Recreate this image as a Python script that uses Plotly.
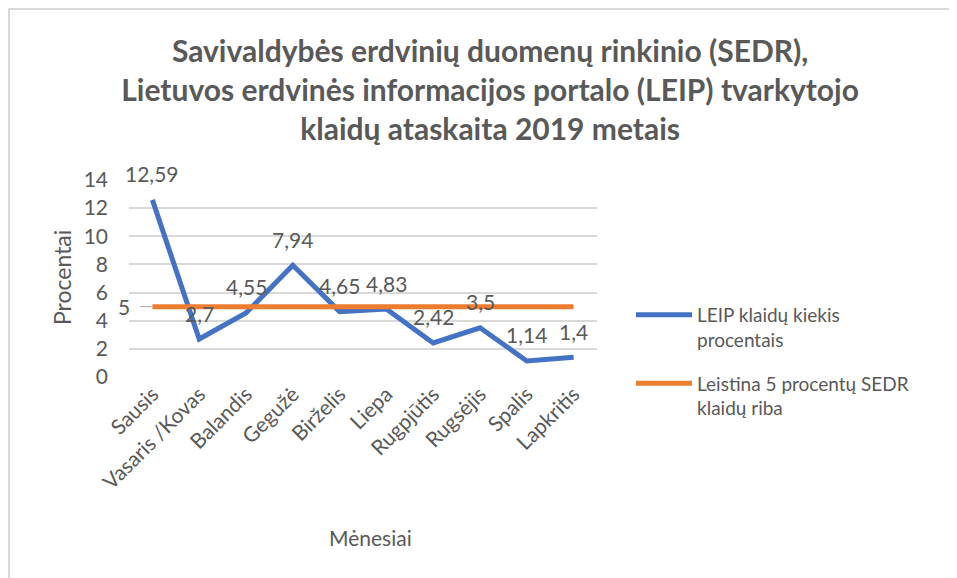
import plotly.graph_objects as go

months = ["Sausis", "Vasaris /Kovas", "Balandis", "Gegužė", "Birželis", "Liepa",
          "Rugpjūtis", "Rugsėjis", "Spalis", "Lapkritis"]
leip_values = [12.59, 2.7, 4.55, 7.94, 4.65, 4.83, 2.42, 3.5, 1.14, 1.4]
limit_values = [5] * len(months)
y_ticks = [0, 2, 4, 6, 8, 10, 12, 14]

BLUE = "#4472C4"
ORANGE = "#ED7D31"
GRAY = "#595959"
FONT = "Lato"

W, H = 949, 570
L, T, PW, PH = 121, 172, 468, 197


def fmt(v):
    return ("%g" % v).replace(".", ",")


fig = go.Figure()
fig.add_trace(go.Scatter(
    x=months, y=leip_values, mode="lines",
    name="LEIP klaidų kiekis<br>procentais", legendgroup="a",
    line=dict(color=BLUE, width=5),
    cliponaxis=False,
))
fig.add_trace(go.Scatter(
    x=months, y=limit_values, mode="lines",
    name="Leistina 5 procentų SEDR<br>klaidų riba", legendgroup="b",
    line=dict(color=ORANGE, width=5),
    cliponaxis=False,
))

# data labels for the LEIP series (above the points)
for m, v in zip(months, leip_values):
    fig.add_annotation(x=m, y=v, text=fmt(v), xref="x", yref="y",
                       showarrow=False, yshift=26,
                       font=dict(family=FONT, size=21, color=GRAY))

# data label of the first point of the limit series (placed to the left)
fig.add_annotation(x=months[0], y=limit_values[0], text=fmt(limit_values[0]),
                   xref="x", yref="y", showarrow=False, xanchor="right",
                   xshift=-20, font=dict(family=FONT, size=21, color=GRAY))
fig.add_shape(type="line", xref="x", yref="y", x0=-0.26, x1=-0.02,
              y0=limit_values[0], y1=limit_values[0],
              line=dict(color="#A6A6A6", width=1))

# axis titles
fig.add_annotation(text="Mėnesiai", xref="paper", yref="paper",
                   x=(362 - L) / PW, y=(T + PH - 529) / PH, showarrow=False,
                   xanchor="center", yanchor="middle",
                   font=dict(family=FONT, size=21, color=GRAY))
fig.add_annotation(text="Procentai", xref="paper", yref="paper",
                   x=(54 - L) / PW, y=(T + PH - 270) / PH, showarrow=False,
                   textangle=-90, xanchor="center", yanchor="middle",
                   font=dict(family=FONT, size=23, color=GRAY))

fig.update_layout(
    width=W, height=H,
    margin=dict(l=L, r=W - L - PW, t=T, b=H - T - PH, autoexpand=False),
    paper_bgcolor="white", plot_bgcolor="white",
    font=dict(family=FONT, color=GRAY),
    title=dict(
        text="Savivaldybės erdvinių duomenų rinkinio (SEDR),<br>"
             "Lietuvos erdvinės informacijos portalo (LEIP) tvarkytojo<br>"
             "klaidų ataskaita 2019 metais",
        x=0.508, xref="container", xanchor="center",
        y=0.905, yref="container", yanchor="top",
        font=dict(family=FONT, size=30, color=GRAY, weight="bold"),
    ),
    showlegend=True,
    legend=dict(
        x=(623 - L) / PW, xanchor="left", y=(T + PH - 288) / PH, yanchor="top",
        font=dict(family=FONT, size=19, color=GRAY),
        tracegroupgap=16, itemwidth=56, valign="top",
        bgcolor="rgba(0,0,0,0)",
    ),
    xaxis=dict(
        type="category",
        tickangle=-45,
        tickfont=dict(family=FONT, size=21, color=GRAY),
        showgrid=False, showline=False, ticks="",
        range=[-0.5, len(months) - 0.5],
        automargin=False,
    ),
    yaxis=dict(
        range=[0, 14], tickvals=y_ticks,
        tickfont=dict(family=FONT, size=21, color=GRAY),
        showgrid=True, gridcolor="#D9D9D9", gridwidth=2,
        zeroline=False, showline=False, ticks="",
        ticklabelstandoff=20, automargin=False,
    ),
)

# outer chart border
fig.add_shape(type="rect", xref="paper", yref="paper",
              x0=(1 - L) / PW, x1=(W + 40 - L) / PW,
              y0=(T + PH - H - 40) / PH, y1=(T + PH - 1) / PH,
              line=dict(color="#D9D9D9", width=2), layer="below")

fig.write_html("out.html")
